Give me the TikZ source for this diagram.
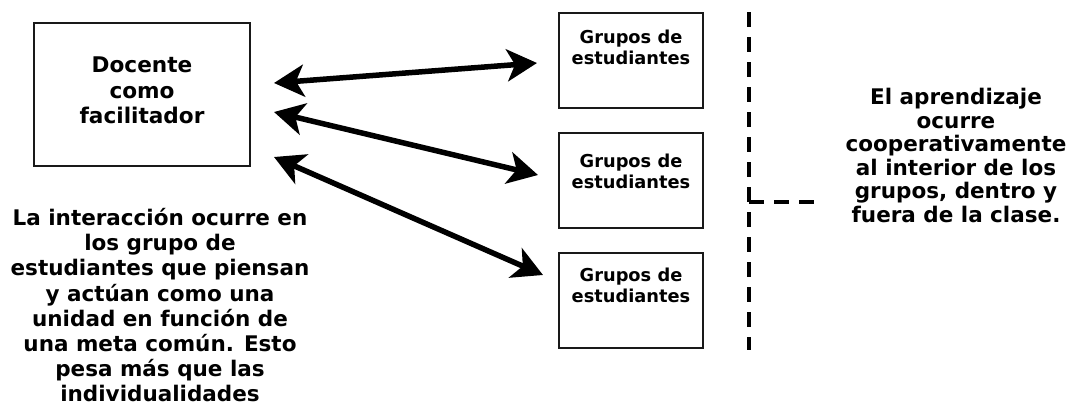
\documentclass[tikz,border=0pt]{standalone}
\usepackage{fontspec}
\setmainfont{DejaVu Sans}
\usetikzlibrary{arrows.meta,calc}
\begin{document}
\begin{tikzpicture}[x=1pt,y=-1pt,
  box/.style={draw=black!90,line width=2pt,rectangle,inner sep=0pt},
  bigtext/.style={font=\fontsize{21.5}{25.2}\selectfont\bfseries,align=center,inner sep=0pt,anchor=north},
  rtext/.style={font=\fontsize{21.5}{23.5}\selectfont\bfseries,align=center,inner sep=0pt,anchor=north},
  doctext/.style={font=\fontsize{21.6}{25.3}\selectfont\bfseries,align=center,inner sep=0pt,anchor=north},
  grtext/.style={font=\fontsize{17.8}{21.5}\selectfont\bfseries,align=center,inner sep=0pt,anchor=north},
  biarrow/.style={line width=5.5pt,{Stealth[length=30pt,width=32pt,inset=8pt]}-{Stealth[length=30pt,width=32pt,inset=8pt]}},
  dline/.style={line width=4.2pt,dash pattern=on 15pt off 10pt}
]
\useasboundingbox (0,0) rectangle (1074,410);

% boxes
\node[box,minimum width=216pt,minimum height=143pt] (doc) at (142,94.5) {};
\node[doctext] (doct) at ($(doc.north)+(0,35)$) {Docente\\como\\facilitador};

\node[box,minimum width=144pt,minimum height=95pt] (g1) at (631,60) {};
\node[box,minimum width=144pt,minimum height=95pt] (g2) at (631,180) {};
\node[box,minimum width=144pt,minimum height=95pt] (g3) at (631,300) {};
\node[grtext] (g1t) at ($(g1.north)+(0,18)$) {Grupos de\\estudiantes};
\node[grtext] (g2t) at ($(g2.north)+(0,22)$) {Grupos de\\estudiantes};
\node[grtext] (g3t) at ($(g3.north)+(0,16)$) {Grupos de\\estudiantes};

% arrow end points
\coordinate (a1l) at (274,83);
\coordinate (a1r) at (537,63);
\coordinate (a2l) at (274,112);
\coordinate (a2r) at (538,175);
\coordinate (a3l) at (274,157);
\coordinate (a3r) at (543,275);
\draw[biarrow] (a1l) -- (a1r);
\draw[biarrow] (a2l) -- (a2r);
\draw[biarrow] (a3l) -- (a3r);

% left text
\node[bigtext] (lt) at (160,208) {La interacción ocurre en\\los grupo de\\estudiantes que piensan\\y actúan como una\\unidad en función de\\una meta común. Esto\\pesa más que las\\individualidades};

% dashed lines
\coordinate (vtop) at (749,12);
\coordinate (vbot) at (749,350);
\coordinate (hmid) at (749,202);
\coordinate (hend) at (820,202);
\draw[dline] (vtop) -- (vbot);
\draw[dline] (hmid) -- (hend);

% right text
\node[rtext] (rt) at (956,88) {El aprendizaje\\ocurre\\cooperativamente\\al interior de los\\grupos, dentro y\\fuera de la clase.};
\end{tikzpicture}
\end{document}
